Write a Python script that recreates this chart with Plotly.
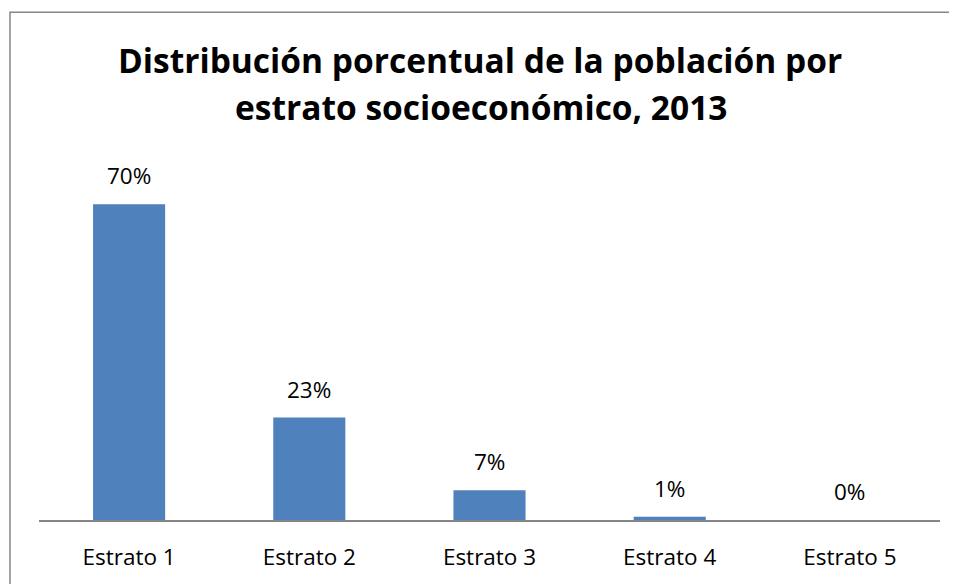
import plotly.graph_objects as go

categories = ["Estrato 1", "Estrato 2", "Estrato 3", "Estrato 4", "Estrato 5"]
values = [0.700, 0.227, 0.066, 0.007, 0.0]
title_line1 = "Distribución porcentual de la población por"
title_line2 = "estrato socioeconómico, 2013"

# the page body has an 8px margin; figure is sized/positioned to compensate
OFF = 8
W, H = 957 - OFF, 584 - OFF
plot_left, plot_right, plot_top, plot_bottom = 39, 940, 159, 520.5  # reference pixel coords
L = plot_left - OFF
R = W - (plot_right - OFF)
T = plot_top - OFF
B = H - (plot_bottom - OFF)
pw = W - L - R
ph = H - T - B


def px(x):
    return (x - OFF - L) / pw


def py(y):
    return (H - B - (y - OFF)) / ph


label_font = dict(family="Open Sans", size=22.5, color="#000000")

fig = go.Figure(go.Bar(
    x=categories, y=values,
    marker=dict(color="#4F81BD", line=dict(width=0)),
    hoverinfo="x+y",
))

annotations = [
    dict(x=c, y=v, xref="x", yref="y", text=f"{v:.0%}", showarrow=False,
         xanchor="center", yanchor="bottom", yshift=11, font=label_font)
    for c, v in zip(categories, values)
]
annotations += [
    dict(text="<b>" + title_line1 + "</b>", xref="paper", yref="paper",
         x=px(480), y=py(60), xanchor="center", yanchor="middle", showarrow=False,
         font=dict(family="Open Sans", size=33.5, color="#000000")),
    dict(text="<b>" + title_line2 + "</b>", xref="paper", yref="paper",
         x=px(481), y=py(107), xanchor="center", yanchor="middle", showarrow=False,
         font=dict(family="Open Sans", size=33.5, color="#000000")),
]

fig.update_layout(
    width=W, height=H,
    margin=dict(l=L, r=R, t=T, b=B),
    paper_bgcolor="white", plot_bgcolor="white",
    bargap=0.6,
    showlegend=False,
    xaxis=dict(showline=True, linecolor="#868686", linewidth=1.5,
               ticks="", showgrid=False, ticklabelstandoff=16,
               tickfont=label_font),
    yaxis=dict(range=[0, 0.8], visible=False, showgrid=False, zeroline=False),
    annotations=annotations,
    shapes=[dict(type="rect", xref="paper", yref="paper",
                 x0=px(10), y0=py(12), x1=px(975), y1=py(600),
                 line=dict(color="#868686", width=1.5), fillcolor="rgba(0,0,0,0)",
                 layer="above")],
)

fig.write_html("out.html")
